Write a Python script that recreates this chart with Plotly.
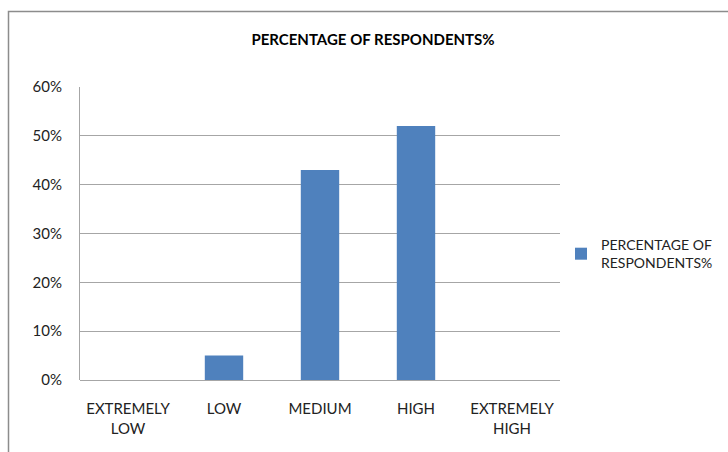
import plotly.graph_objects as go

categories = ["EXTREMELY<br>LOW", "LOW", "MEDIUM", "HIGH", "EXTREMELY<br>HIGH"]
percentages = [0, 0.05, 0.43, 0.52, 0]
series_name = "PERCENTAGE OF<br>RESPONDENTS%"
title_text = "PERCENTAGE OF RESPONDENTS%"
y_ticks = [0, 0.1, 0.2, 0.3, 0.4, 0.5, 0.6]

W, H = 728, 452
L, R, T, B = 80, 168, 87, 72
pw, ph = W - L - R, H - T - B

def px_x(x):
    return (x - L) / pw

def px_y(y):
    return (H - B - y) / ph

FONT = "Lato"
TEXT = "#222222"

fig = go.Figure()
fig.add_trace(go.Bar(
    x=categories, y=percentages, name=series_name,
    marker=dict(color="#4F81BD", line=dict(width=0)),
    width=0.4, showlegend=True,
))

frame_color = "#8C8C8C"
shapes = [
    # outer chart frame; right and bottom edges fall outside the page
    dict(type="rect", xref="paper", yref="paper",
         x0=px_x(8.5), x1=px_x(760), y0=px_y(480), y1=px_y(11.5),
         line=dict(color=frame_color, width=1.5), fillcolor="rgba(0,0,0,0)",
         layer="above"),
]

fig.update_layout(
    width=W, height=H,
    margin=dict(l=L, r=R, t=T, b=B, autoexpand=False),
    paper_bgcolor="white", plot_bgcolor="white",
    font=dict(family=FONT, size=15, color=TEXT),
    title=dict(text="<b>" + title_text + "</b>", xref="paper", x=px_x(373),
               xanchor="center", yref="container", y=1 - 40 / H,
               yanchor="middle", font=dict(family=FONT, size=15, color="#000000")),
    bargap=0.6,
    showlegend=True,
    legend=dict(x=px_x(561), xanchor="left", y=px_y(254), yanchor="middle",
                font=dict(family=FONT, size=14, color=TEXT),
                bgcolor="rgba(0,0,0,0)", itemwidth=30),
    shapes=shapes,
    xaxis=dict(showline=False, showgrid=False, ticks="", ticklabelstandoff=18,
               tickfont=dict(family=FONT, size=15, color=TEXT), fixedrange=True),
    yaxis=dict(range=[0, 0.6], tickvals=y_ticks, tickformat=".0%",
               showgrid=True, gridcolor="#A6A6A6", gridwidth=1,
               showline=True, linecolor="#A6A6A6", linewidth=1,
               zeroline=True, zerolinecolor="#A6A6A6", zerolinewidth=1,
               ticks="", ticklabelstandoff=14,
               tickfont=dict(family=FONT, size=15, color=TEXT), fixedrange=True),
)

fig.write_html("out.html")
